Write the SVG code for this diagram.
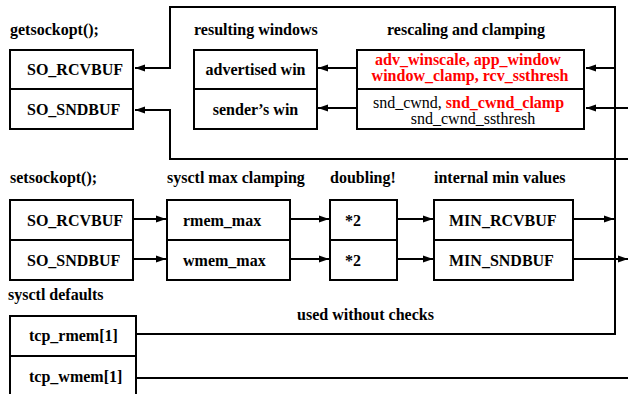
<svg xmlns="http://www.w3.org/2000/svg" width="628" height="394" viewBox="0 0 628 394">
<style>
.box{fill:#fff;stroke:#000;stroke-width:2}
.ln{fill:none;stroke:#000;stroke-width:2}
</style>
<defs>
<marker id="ah" markerUnits="userSpaceOnUse" markerWidth="10" markerHeight="8" refX="10" refY="4" orient="auto">
<path d="M0,0.5 L10,4 L0,7.5 z" fill="#000"/>
</marker>
</defs>
<rect width="628" height="394" fill="#fff"/>

<g id="labels" font-family="Liberation Serif" font-size="16" font-weight="bold">
<text x="10" y="35">getsockopt();</text>
<text x="194" y="35">resulting windows</text>
<text x="387" y="35">rescaling and clamping</text>
<text x="10" y="183">setsockopt();</text>
<text x="167" y="183">sysctl max clamping</text>
<text x="330" y="183">doubling!</text>
<text x="434" y="183">internal min values</text>
<text x="8" y="300">sysctl defaults</text>
<text x="297" y="320">used without checks</text>
</g>

<g id="connectors">
<path class="ln" d="M136,334 H615 V7 H170 V68 H135" marker-end="url(#ah)"/>
<path class="ln" d="M615,68 H586" marker-end="url(#ah)"/>
<path class="ln" d="M628,108 H586" marker-end="url(#ah)"/>
<path class="ln" d="M628,159 H170 V110 H135" marker-end="url(#ah)"/>
<path class="ln" d="M357,68 H318" marker-end="url(#ah)"/>
<path class="ln" d="M357,108 H318" marker-end="url(#ah)"/>
<path class="ln" d="M133,219 H166" marker-end="url(#ah)"/>
<path class="ln" d="M133,259 H166" marker-end="url(#ah)"/>
<path class="ln" d="M290,219 H329" marker-end="url(#ah)"/>
<path class="ln" d="M290,259 H329" marker-end="url(#ah)"/>
<path class="ln" d="M397,219 H433" marker-end="url(#ah)"/>
<path class="ln" d="M397,259 H433" marker-end="url(#ah)"/>
<path class="ln" d="M573,219 H614" marker-end="url(#ah)"/>
<path class="ln" d="M573,259 H628" marker-end="url(#ah)"/>
<path class="ln" d="M136,378 H628"/>
</g>

<g id="getsockopt" font-family="Liberation Serif" font-size="16" font-weight="bold">
<rect class="box" x="10" y="50" width="123" height="79"/>
<line class="ln" x1="10" y1="89" x2="133" y2="89"/>
<text x="27" y="75">SO_RCVBUF</text>
<text x="27" y="115">SO_SNDBUF</text>
</g>

<g id="resulting-windows" font-family="Liberation Serif" font-size="16" font-weight="bold" text-anchor="middle">
<rect class="box" x="194" y="50" width="123" height="79"/>
<line class="ln" x1="194" y1="89" x2="317" y2="89"/>
<text x="255.5" y="75">advertised win</text>
<text x="255.5" y="115">sender’s win</text>
</g>

<g id="rescaling" font-family="Liberation Serif" font-size="16" text-anchor="middle">
<rect class="box" x="357" y="50" width="227" height="79"/>
<line class="ln" x1="357" y1="89" x2="584" y2="89"/>
<text x="468" y="65" fill="#ff0000" font-weight="bold">adv_winscale, app_window</text>
<text x="470" y="81" fill="#ff0000" font-weight="bold">window_clamp, rcv_ssthresh</text>
<text x="468.5" y="108">snd_cwnd, <tspan fill="#ff0000" font-weight="bold">snd_cwnd_clamp</tspan></text>
<text x="473" y="124">snd_cwnd_ssthresh</text>
</g>

<g id="setsockopt" font-family="Liberation Serif" font-size="16" font-weight="bold">
<rect class="box" x="10" y="200" width="123" height="80"/>
<line class="ln" x1="10" y1="240" x2="133" y2="240"/>
<text x="27" y="226">SO_RCVBUF</text>
<text x="27" y="266">SO_SNDBUF</text>
</g>

<g id="sysctl-max" font-family="Liberation Serif" font-size="16" font-weight="bold">
<rect class="box" x="167" y="200" width="123" height="80"/>
<line class="ln" x1="167" y1="240" x2="290" y2="240"/>
<text x="183" y="226">rmem_max</text>
<text x="183" y="266">wmem_max</text>
</g>

<g id="doubling" font-family="Liberation Serif" font-size="16" font-weight="bold">
<rect class="box" x="330" y="200" width="67" height="80"/>
<line class="ln" x1="330" y1="240" x2="397" y2="240"/>
<text x="345" y="226">*2</text>
<text x="345" y="266">*2</text>
</g>

<g id="internal-min" font-family="Liberation Serif" font-size="16" font-weight="bold">
<rect class="box" x="434" y="200" width="139" height="80"/>
<line class="ln" x1="434" y1="240" x2="573" y2="240"/>
<text x="449" y="226">MIN_RCVBUF</text>
<text x="449" y="266">MIN_SNDBUF</text>
</g>

<g id="sysctl-defaults" font-family="Liberation Serif" font-size="16" font-weight="bold">
<rect class="box" x="10" y="316" width="126" height="82"/>
<line class="ln" x1="10" y1="356" x2="136" y2="356"/>
<text x="29" y="341">tcp_rmem[1]</text>
<text x="29" y="382">tcp_wmem[1]</text>
</g>
</svg>
